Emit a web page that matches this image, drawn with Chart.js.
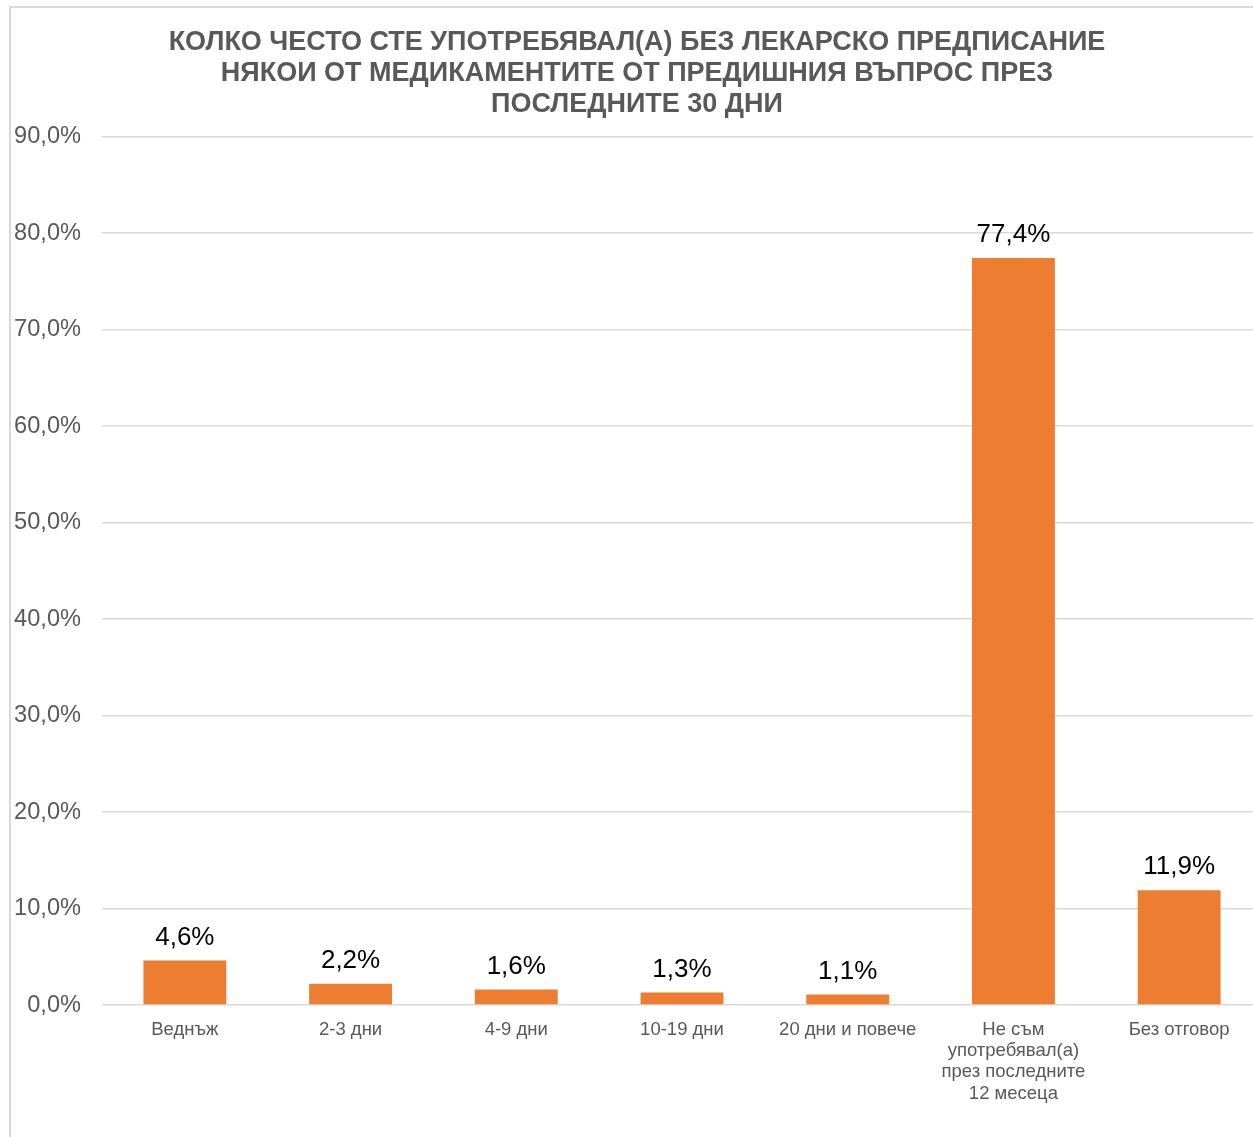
<!DOCTYPE html>
<html lang="bg">
<head>
  <meta charset="UTF-8">
  <title>Употреба без лекарско предписание</title>
  <script src="https://cdn.jsdelivr.net/npm/chart.js"></script>
  <style>
    html, body {
      margin: 0;
      padding: 0;
      background: #fff;
      overflow: hidden;
    }
    .frame {
      position: absolute;
      left: 9px;
      top: 6px;
      width: 1400px;
      height: 1400px;
      border: 2px solid #d9d9d9;
    }
    .wrap {
      position: absolute;
      left: 0;
      top: 0;
      width: 1275px;
      height: 1137px;
    }
  </style>
</head>
<body>
<div class="frame"></div>
<div class="wrap">
  <canvas id="chart"></canvas>
</div>

<script>
  const titleLines = [
    'КОЛКО ЧЕСТО СТЕ УПОТРЕБЯВАЛ(А) БЕЗ ЛЕКАРСКО ПРЕДПИСАНИЕ',
    'НЯКОИ ОТ МЕДИКАМЕНТИТЕ ОТ ПРЕДИШНИЯ ВЪПРОС ПРЕЗ',
    'ПОСЛЕДНИТЕ 30 ДНИ'
  ];
  const categories = [
    'Веднъж',
    '2-3 дни',
    '4-9 дни',
    '10-19 дни',
    '20 дни и повече',
    ['Не съм', 'употребявал(а)', 'през последните', '12 месеца'],
    'Без отговор'
  ];
  const values = [4.6, 2.2, 1.6, 1.3, 1.1, 77.4, 11.9];
  const yMax = 90;
  const yStep = 10;

  const fmt = v => v.toFixed(1).replace('.', ',') + '%';
  const font = '"Liberation Sans", Arial, sans-serif';

  // подписи над стълбовете
  const barLabels = {
    id: 'barLabels',
    afterDatasetsDraw(chart) {
      const ctx = chart.ctx;
      const meta = chart.getDatasetMeta(0);
      ctx.save();
      ctx.font = '26px ' + font;
      ctx.fillStyle = '#000';
      ctx.textAlign = 'center';
      ctx.textBaseline = 'bottom';
      meta.data.forEach((bar, i) => {
        ctx.fillText(fmt(values[i]), bar.x, bar.y - 10);
      });
      ctx.restore();
    }
  };

  new Chart(document.getElementById('chart'), {
    type: 'bar',
    data: {
      labels: categories,
      datasets: [{
        data: values,
        backgroundColor: '#ed7d31',
        categoryPercentage: 1,
        barPercentage: 0.5
      }]
    },
    options: {
      responsive: true,
      maintainAspectRatio: false,
      animation: false,
      layout: {
        padding: { left: 12, right: 13, top: 0, bottom: 0 }
      },
      scales: {
        x: {
          grid: { display: false },
          border: { display: false },
          ticks: {
            color: '#595959',
            font: { family: font, size: 18.5, lineHeight: 1.15 },
            padding: 6,
            maxRotation: 0,
            autoSkip: false
          },
          afterFit(scale) { scale.height = 132; }
        },
        y: {
          min: 0,
          max: yMax,
          grid: { color: '#d9d9d9', lineWidth: 1.5, drawTicks: false },
          border: { display: false },
          ticks: {
            stepSize: yStep,
            color: '#595959',
            font: { family: font, size: 23.6 },
            padding: 21,
            callback: v => fmt(v)
          },
          afterFit(scale) { scale.width = 90; }
        }
      },
      plugins: {
        legend: { display: false },
        tooltip: { enabled: false },
        title: {
          display: true,
          text: titleLines,
          color: '#595959',
          font: { family: font, size: 27, weight: 'bold', lineHeight: 1.148 },
          padding: { top: 27.5, bottom: 16 }
        }
      }
    },
    plugins: [barLabels]
  });
</script>
</body>
</html>
